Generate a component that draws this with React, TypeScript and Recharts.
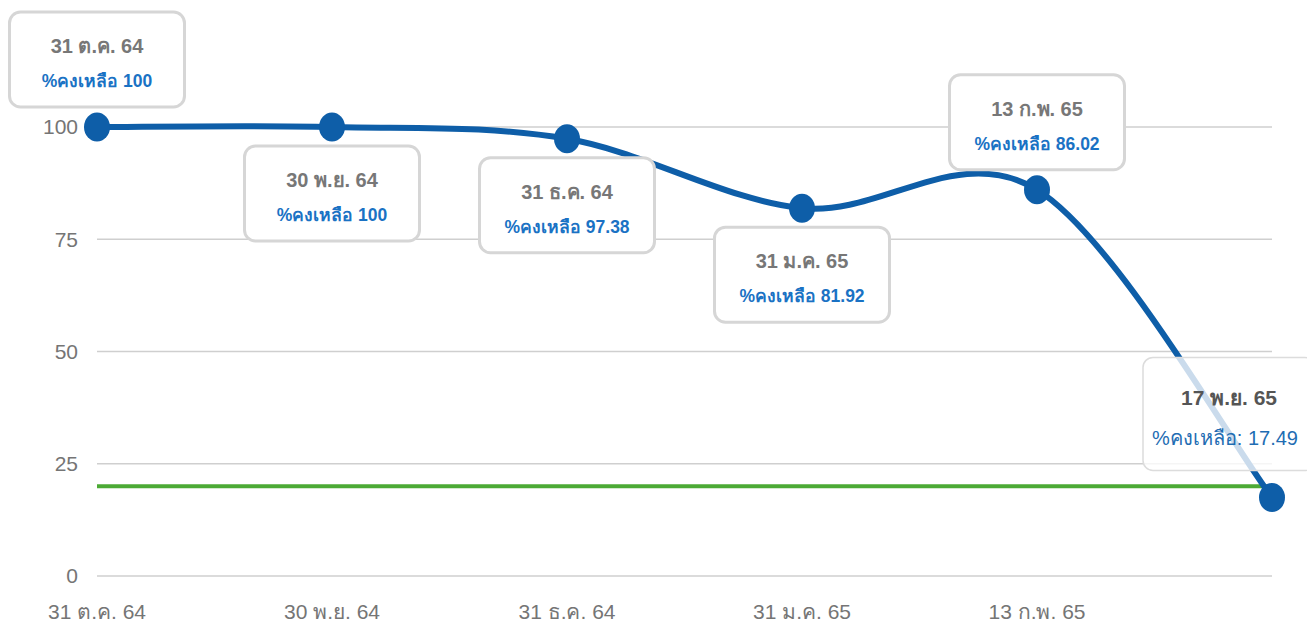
import { LineChart, Line, XAxis, YAxis, CartesianGrid, ReferenceLine, LabelList } from 'recharts';

// category dates (Thai short dates) and the remaining-percentage series
const dates = ['31 ต.ค. 64', '30 พ.ย. 64', '31 ธ.ค. 64', '31 ม.ค. 65', '13 ก.พ. 65', '17 พ.ย. 65'];
const remaining = [100, 100, 97.38, 81.92, 86.02, 17.49];
const valueLabels = ['100', '100', '97.38', '81.92', '86.02', '17.49'];
const axisTickLabels = ['31 ต.ค. 64', '30 พ.ย. 64', '31 ธ.ค. 64', '31 ม.ค. 65', '13 ก.พ. 65', ''];
const yTicks = [0, 25, 50, 75, 100];
const threshold = 20;

const seriesLabel = '%คงเหลือ';

const data = dates.map((d, i) => ({ date: d, remaining: remaining[i], idx: i }));

const FONT = 'Arial, "Liberation Sans", sans-serif';
const LINE_COLOR = '#0e5ea8';
const BLUE_TEXT = '#1a72c4';

// catmull-rom style smoothing, similar to google charts' curveType: 'function'
const smoothCurve = (context: any) => {
  let pts: number[][] = [];
  return {
    areaStart() {},
    areaEnd() {},
    lineStart() {
      pts = [];
    },
    point(x: number, y: number) {
      pts.push([+x, +y]);
    },
    lineEnd() {
      if (!pts.length) return;
      context.moveTo(pts[0][0], pts[0][1]);
      for (let i = 0; i < pts.length - 1; i++) {
        const p0 = pts[i - 1] || pts[i];
        const p1 = pts[i];
        const p2 = pts[i + 1];
        const p3 = pts[i + 2] || p2;
        context.bezierCurveTo(
          p1[0] + (p2[0] - p0[0]) / 6,
          p1[1] + (p2[1] - p0[1]) / 6,
          p2[0] - (p3[0] - p1[0]) / 6,
          p2[1] - (p3[1] - p1[1]) / 6,
          p2[0],
          p2[1]
        );
      }
    },
  };
};

const ABOVE = [0, 4];

const PointLabel = (props: any) => {
  const { x, y, index } = props;
  if (x == null || y == null) return null;
  const last = index === dates.length - 1;

  if (last) {
    // hovered tooltip style box
    const left = x - 129;
    const top = y - 140;
    return (
      <g>
        <rect x={left} y={top} width={172} height={113} rx={10} ry={10} fill="#fff" fillOpacity={0.78} stroke="#dcdcdc" strokeWidth={1.5} />
        <text x={left + 86} y={top + 48} textAnchor="middle" fontFamily={FONT} fontSize={21} fontWeight="bold" fill="#555">
          {dates[index]}
        </text>
        <text x={left + 82} y={top + 88} textAnchor="middle" fontFamily={FONT} fontSize={20} fill="#1f6db3">
          {seriesLabel}: {valueLabels[index]}
        </text>
      </g>
    );
  }

  const w = 175;
  const h = 95;
  const top = ABOVE.includes(index) ? y - 20 - h : y + 19;
  const left = x - w / 2;
  return (
    <g>
      <rect x={left} y={top} width={w} height={h} rx={11} ry={11} fill="#fff" stroke="#d6d6d6" strokeWidth={3} />
      <text x={x} y={top + 41} textAnchor="middle" fontFamily={FONT} fontSize={20} fontWeight="bold" fill="#777">
        {dates[index]}
      </text>
      <text x={x} y={top + 75} textAnchor="middle" fontFamily={FONT} fontSize={17.5} fontWeight="bold" fill={BLUE_TEXT}>
        {seriesLabel} {valueLabels[index]}
      </text>
    </g>
  );
};

const Dot = (props: any) => {
  const { cx, cy } = props;
  if (cx == null || cy == null) return null;
  return <ellipse cx={cx} cy={cy} rx={13} ry={14.5} fill={LINE_COLOR} />;
};

const XTick = (props: any) => {
  const { x, y, index } = props;
  return (
    <text x={x} y={y + 35} textAnchor="middle" fontFamily={FONT} fontSize={21} fill="#757575">
      {axisTickLabels[index]}
    </text>
  );
};

const App = () => {
  return (
    <div style={{ position: 'absolute', left: 0, top: 0, background: '#fff' }}>
      <LineChart width={1307} height={629} data={data} margin={{ top: 127, right: 35, left: 0, bottom: 13 }}>
        <CartesianGrid horizontal vertical={false} stroke="#cfcfcf" strokeWidth={1.5} />
        <XAxis
          dataKey="date"
          scale="point"
          padding={{ left: 0, right: 0 }}
          axisLine={false}
          tickLine={false}
          height={40}
          interval={0}
          tick={<XTick />}
        />
        <YAxis
          domain={[0, 100]}
          ticks={yTicks}
          width={97}
          axisLine={false}
          tickLine={false}
          tickMargin={13}
          tick={{ fontFamily: FONT, fontSize: 21, fill: '#757575' }}
        />
        <ReferenceLine y={threshold} stroke="#4caa35" strokeWidth={4} />
        <Line
          dataKey="remaining"
          type={smoothCurve as any}
          stroke={LINE_COLOR}
          strokeWidth={6}
          dot={<Dot />}
          activeDot={false}
          isAnimationActive={false}
        >
          <LabelList dataKey="remaining" content={<PointLabel />} />
        </Line>
      </LineChart>
    </div>
  );
};

export default App;
